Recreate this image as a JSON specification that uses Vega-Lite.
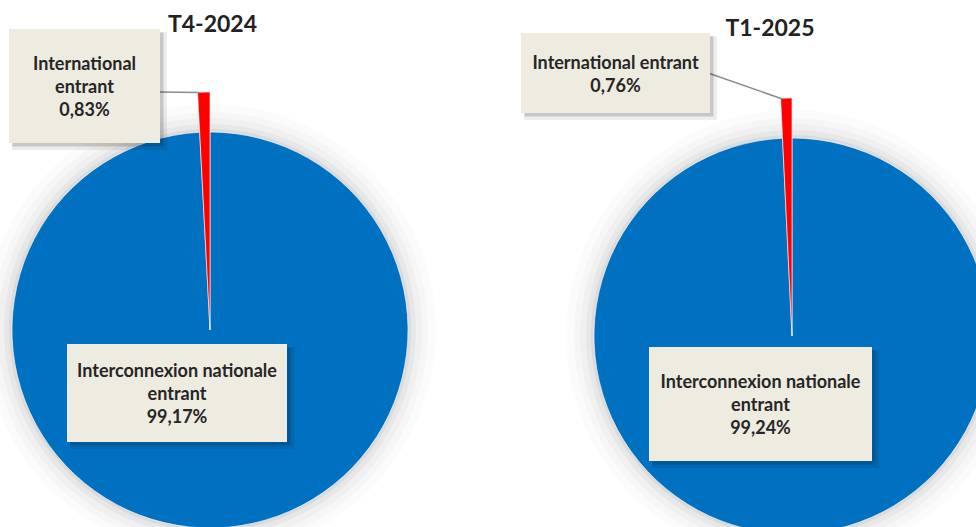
{
  "$schema": "https://vega.github.io/schema/vega-lite/v6.json",
  "width": 976,
  "height": 527,
  "autosize": "none",
  "padding": 0,
  "background": "white",
  "config": {"view": {"stroke": null}, "font": "Lato"},
  "data": {
    "values": [
      {"period": "T4-2024", "category": "Interconnexion nationale entrant", "value": 99.17, "label": ["Interconnexion nationale", "entrant", "99,17%"]},
      {"period": "T4-2024", "category": "International entrant", "value": 0.83, "label": ["International", "entrant", "0,83%"]},
      {"period": "T1-2025", "category": "Interconnexion nationale entrant", "value": 99.24, "label": ["Interconnexion nationale", "entrant", "99,24%"]},
      {"period": "T1-2025", "category": "International entrant", "value": 0.76, "label": ["International entrant", "0,76%"]}
    ]
  },
  "transform": [
    {"stack": "value", "groupby": ["period"], "sort": [{"field": "category", "order": "ascending"}], "as": ["start", "end"]}
  ],
  "layer": [
    {
      "encoding": {
        "x": {"field": "period", "type": "nominal", "axis": null, "scale": {"type": "point", "domain": ["T4-2024", "T1-2025"], "range": [210, 792], "padding": 0}},
        "y": {"field": "period", "type": "nominal", "axis": null, "scale": {"type": "point", "domain": ["T4-2024", "T1-2025"], "range": [330, 336], "padding": 0}}
      },
      "layer": [
        {"transform": [{"filter": "datum.category === 'Interconnexion nationale entrant'"}], "mark": {"type": "arc", "outerRadius": 226, "fill": "#000000", "opacity": 0.015}, "encoding": {}},
        {"transform": [{"filter": "datum.category === 'Interconnexion nationale entrant'"}], "mark": {"type": "arc", "outerRadius": 218, "fill": "#000000", "opacity": 0.02}, "encoding": {}},
        {"transform": [{"filter": "datum.category === 'Interconnexion nationale entrant'"}], "mark": {"type": "arc", "outerRadius": 212, "fill": "#000000", "opacity": 0.025}, "encoding": {}},
        {"transform": [{"filter": "datum.category === 'Interconnexion nationale entrant'"}], "mark": {"type": "arc", "outerRadius": 206, "fill": "#000000", "opacity": 0.035}, "encoding": {}},
        {"transform": [{"filter": "datum.category === 'Interconnexion nationale entrant'"}], "mark": {"type": "arc", "outerRadius": 201, "fill": "#000000", "opacity": 0.05}, "encoding": {}},
        {
          "transform": [{"filter": "datum.category === 'Interconnexion nationale entrant'"}],
          "mark": {"type": "arc", "outerRadius": 198, "stroke": "white", "strokeWidth": 0.6},
          "encoding": {
            "theta": {"field": "start", "type": "quantitative", "stack": null, "scale": {"domain": [0, 100]}},
            "theta2": {"field": "end"},
            "color": {"field": "category", "type": "nominal", "legend": null, "scale": {"domain": ["Interconnexion nationale entrant", "International entrant"], "range": ["#0070C0", "#FF0000"]}}
          }
        },
        {
          "transform": [{"filter": "datum.category === 'International entrant'"}],
          "mark": {"type": "arc", "outerRadius": 238, "stroke": "white", "strokeWidth": 0.6},
          "encoding": {
            "theta": {"field": "start", "type": "quantitative", "stack": null, "scale": {"domain": [0, 100]}},
            "theta2": {"field": "end"},
            "color": {"field": "category", "type": "nominal", "legend": null, "scale": {"domain": ["Interconnexion nationale entrant", "International entrant"], "range": ["#0070C0", "#FF0000"]}}
          }
        }
      ]
    },
    {
      "transform": [{"filter": "datum.category === 'International entrant'"}],
      "encoding": {
        "x": {"field": "period", "type": "nominal", "axis": null, "scale": {"type": "point", "domain": ["T4-2024", "T1-2025"], "range": [84.5, 615.5], "padding": 0}},
        "y": {"field": "period", "type": "nominal", "axis": null, "scale": {"type": "point", "domain": ["T4-2024", "T1-2025"], "range": [86, 73], "padding": 0}}
      },
      "layer": [
        {"transform": [{"filter": "datum.period === 'T4-2024'"}], "mark": {"type": "rule", "stroke": "#8c8c8c", "strokeWidth": 1.5, "xOffset": 75, "x2Offset": 115, "yOffset": 6, "y2Offset": 6.5}, "encoding": {"x2": {"field": "period"}, "y2": {"field": "period"}}},
        {"transform": [{"filter": "datum.period === 'T1-2025'"}], "mark": {"type": "rule", "stroke": "#8c8c8c", "strokeWidth": 1.5, "xOffset": 94, "x2Offset": 167, "yOffset": 0.5, "y2Offset": 26}, "encoding": {"x2": {"field": "period"}, "y2": {"field": "period"}}},
        {"transform": [{"filter": "datum.period === 'T4-2024'"}], "mark": {"type": "rect", "width": 155, "height": 118, "fill": "#000000", "opacity": 0.07, "xOffset": 5, "yOffset": 5}, "encoding": {}},
        {"transform": [{"filter": "datum.period === 'T4-2024'"}], "mark": {"type": "rect", "width": 151, "height": 114, "fill": "#000000", "opacity": 0.16, "xOffset": 3.5, "yOffset": 3.5}, "encoding": {}},
        {"transform": [{"filter": "datum.period === 'T4-2024'"}], "mark": {"type": "rect", "width": 151, "height": 114, "fill": "#EEEBE1"}, "encoding": {}},
        {"transform": [{"filter": "datum.period === 'T1-2025'"}], "mark": {"type": "rect", "width": 193, "height": 84, "fill": "#000000", "opacity": 0.07, "xOffset": 5, "yOffset": 5}, "encoding": {}},
        {"transform": [{"filter": "datum.period === 'T1-2025'"}], "mark": {"type": "rect", "width": 189, "height": 80, "fill": "#000000", "opacity": 0.16, "xOffset": 3.5, "yOffset": 3.5}, "encoding": {}},
        {"transform": [{"filter": "datum.period === 'T1-2025'"}], "mark": {"type": "rect", "width": 189, "height": 80, "fill": "#EEEBE1"}, "encoding": {}},
        {"transform": [{"filter": "datum.period === 'T4-2024'"}], "mark": {"type": "text", "font": "Lato", "fontWeight": "bold", "fontSize": 18, "lineHeight": 23, "fill": "#262626", "align": "center", "baseline": "middle", "dy": -21}, "encoding": {"text": {"field": "label"}}},
        {"transform": [{"filter": "datum.period === 'T1-2025'"}], "mark": {"type": "text", "font": "Lato", "fontWeight": "bold", "fontSize": 18, "lineHeight": 23, "fill": "#262626", "align": "center", "baseline": "middle", "dy": -9.5}, "encoding": {"text": {"field": "label"}}}
      ]
    },
    {
      "transform": [{"filter": "datum.category === 'Interconnexion nationale entrant'"}],
      "encoding": {
        "x": {"field": "period", "type": "nominal", "axis": null, "scale": {"type": "point", "domain": ["T4-2024", "T1-2025"], "range": [177, 760.5], "padding": 0}},
        "y": {"field": "period", "type": "nominal", "axis": null, "scale": {"type": "point", "domain": ["T4-2024", "T1-2025"], "range": [393, 404], "padding": 0}}
      },
      "layer": [
        {"transform": [{"filter": "datum.period === 'T4-2024'"}], "mark": {"type": "rect", "width": 224, "height": 102, "fill": "#000000", "opacity": 0.07, "xOffset": 5, "yOffset": 5}, "encoding": {}},
        {"transform": [{"filter": "datum.period === 'T4-2024'"}], "mark": {"type": "rect", "width": 220, "height": 98, "fill": "#000000", "opacity": 0.16, "xOffset": 3.5, "yOffset": 3.5}, "encoding": {}},
        {"transform": [{"filter": "datum.period === 'T4-2024'"}], "mark": {"type": "rect", "width": 220, "height": 98, "fill": "#EEEBE1"}, "encoding": {}},
        {"transform": [{"filter": "datum.period === 'T1-2025'"}], "mark": {"type": "rect", "width": 227, "height": 118, "fill": "#000000", "opacity": 0.07, "xOffset": 5, "yOffset": 5}, "encoding": {}},
        {"transform": [{"filter": "datum.period === 'T1-2025'"}], "mark": {"type": "rect", "width": 223, "height": 114, "fill": "#000000", "opacity": 0.16, "xOffset": 3.5, "yOffset": 3.5}, "encoding": {}},
        {"transform": [{"filter": "datum.period === 'T1-2025'"}], "mark": {"type": "rect", "width": 223, "height": 114, "fill": "#EEEBE1"}, "encoding": {}},
        {"mark": {"type": "text", "font": "Lato", "fontWeight": "bold", "fontSize": 18, "lineHeight": 23, "fill": "#262626", "align": "center", "baseline": "middle", "dy": -21}, "encoding": {"text": {"field": "label"}}}
      ]
    },
    {
      "transform": [{"filter": "datum.category === 'Interconnexion nationale entrant'"}],
      "mark": {"type": "text", "font": "Lato", "fontWeight": "bold", "fontSize": 23, "fill": "#222222", "align": "center", "baseline": "alphabetic"},
      "encoding": {
        "x": {"field": "period", "type": "nominal", "axis": null, "scale": {"type": "point", "domain": ["T4-2024", "T1-2025"], "range": [212.5, 770], "padding": 0}},
        "y": {"field": "period", "type": "nominal", "axis": null, "scale": {"type": "point", "domain": ["T4-2024", "T1-2025"], "range": [32, 36], "padding": 0}},
        "text": {"field": "period"}
      }
    }
  ],
  "resolve": {"scale": {"x": "independent", "y": "independent"}}
}
